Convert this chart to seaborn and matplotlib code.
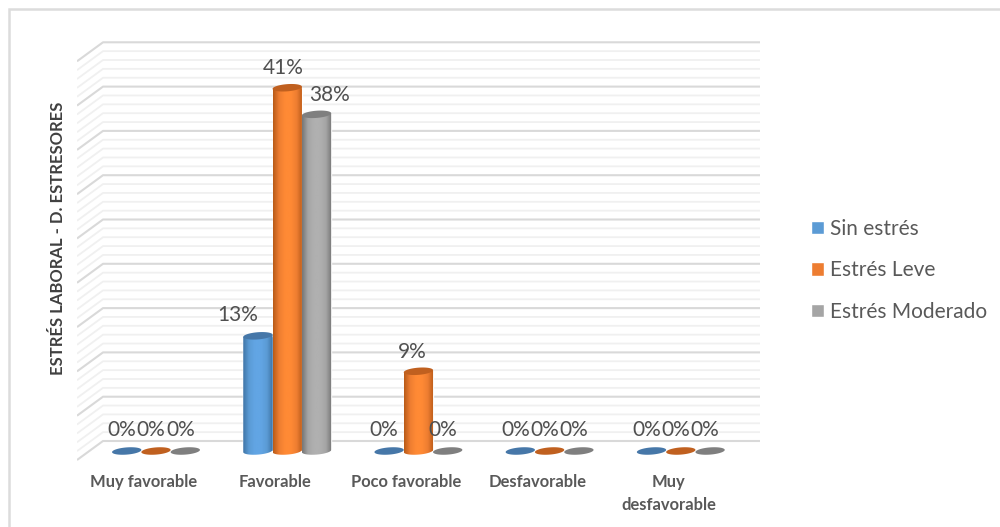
import numpy as np
import pandas as pd
import matplotlib
matplotlib.use("Agg")
import matplotlib.pyplot as plt
from matplotlib.lines import Line2D
from matplotlib.patches import Polygon
from matplotlib.colors import LinearSegmentedColormap
import seaborn as sns

categories = ["Muy favorable", "Favorable", "Poco favorable", "Desfavorable", "Muy\ndesfavorable"]
series_names = ["Sin estrés", "Estrés Leve", "Estrés Moderado"]
sin_estres = [0, 13, 0, 0, 0]
estres_leve = [0, 41, 9, 0, 0]
estres_moderado = [0, 38, 0, 0, 0]
axis_title = "ESTRÉS LABORAL - D. ESTRESORES"

FIG_W, FIG_H = 1000, 527
X0, X1, Y_TOP, Y_BOT = 77, 760, 30, 470   # plot area in pixels
BASE_PX, PX_PER_UNIT = 451, 8.86
CAT0_PX, CAT_STEP = 156, 131.2

face = ["#5B9BD5", "#ED7D31", "#A5A5A5"]
edge_dark = ["#3F74A6", "#B85A18", "#767676"]
top_dark = ["#4677A8", "#C0601F", "#7F7F7F"]
light = ["#62A5E4", "#FF8A35", "#B0B0B0"]

df = pd.DataFrame({
    "categoria": categories * 3,
    "serie": np.repeat(series_names, len(categories)),
    "valor": sin_estres + estres_leve + estres_moderado,
})

sns.set_theme(style="white")
plt.rcParams["font.family"] = ["Lato", "DejaVu Sans"]

fig = plt.figure(figsize=(FIG_W / 100, FIG_H / 100), dpi=100, facecolor="white")

# Chart frame: only the top and left edges fall inside the canvas.
frame_x = 9 / FIG_W
frame_y = 1 - 9 / FIG_H
fig.add_artist(Line2D([frame_x, frame_x, 1], [0, frame_y, frame_y], transform=fig.transFigure,
                      color="#DCDCDC", lw=1.8, solid_joinstyle="miter"))

ax = fig.add_axes([X0 / FIG_W, 1 - Y_BOT / FIG_H, (X1 - X0) / FIG_W, (Y_BOT - Y_TOP) / FIG_H])

sns.barplot(data=df, x="categoria", y="valor", hue="serie", order=categories,
            hue_order=series_names, palette=face, width=0.67, gap=0, saturation=1,
            ax=ax, zorder=3)

xlim = ((X0 - CAT0_PX) / CAT_STEP, (X1 - CAT0_PX) / CAT_STEP)
ylim = ((BASE_PX - Y_BOT) / PX_PER_UNIT, (BASE_PX - Y_TOP) / PX_PER_UNIT)
ax.set_xlim(*xlim)
ax.set_ylim(*ylim)

# Perspective wall: back lines with a short diagonal running to the front edge.
wall_rise = 10 / PX_PER_UNIT
wall_drop = -9 / PX_PER_UNIT
x_back = xlim[0] + 26 / CAT_STEP
for level in range(0, 46):
    major = level % 5 == 0
    color = "#D9D9D9" if major else "#F0F0F0"
    lw = 1.5 if major else 1.3
    ax.plot([xlim[0], x_back, xlim[1]],
            [level + wall_drop, level + wall_rise, level + wall_rise],
            color=color, lw=lw, zorder=1.5 if major else 1, solid_capstyle="butt")

cmaps = [LinearSegmentedColormap.from_list(
    f"cyl{i}", [edge_dark[i], face[i], light[i], light[i], face[i], edge_dark[i]])
    for i in range(3)]

ell_b = 3.6 / PX_PER_UNIT
ell_k = 1.1 / PX_PER_UNIT
t = np.linspace(0, 2 * np.pi, 80)
grad = np.linspace(0, 1, 128)[None, :]

containers = ax.containers
for s, cont in enumerate(containers):
    for bar in cont:
        x = bar.get_x()
        w = bar.get_width()
        h = bar.get_height()
        cx = x + w / 2
        a = w / 2
        if h > 0:
            # Cylinder body: horizontal shading clipped to the side outline.
            tb = np.linspace(np.pi, 2 * np.pi, 30)
            side = np.column_stack([cx + a * np.cos(tb), ell_b * np.sin(tb) + ell_k * np.cos(tb)])
            outline = np.vstack([side, [[x + w, h + ell_k]], [[x, h - ell_k]]])
            poly = Polygon(outline, closed=True, fc="none", ec="none", transform=ax.transData)
            ax.add_patch(poly)
            im = ax.imshow(grad, cmap=cmaps[s], extent=(x, x + w, -ell_b * 2, h + ell_b * 2),
                           aspect="auto", zorder=3.2 + s * 0.1, interpolation="bilinear")
            im.set_clip_path(poly)
        else:
            # A zero-height column has no visible rectangle, only its flat disc.
            bar.set_visible(False)
        cap = np.column_stack([cx + a * np.cos(t), h + ell_b * np.sin(t) + ell_k * np.cos(t)])
        ax.add_patch(Polygon(cap, closed=True, fc=top_dark[s], ec="none", zorder=3.25 + s * 0.1))

ax.set_xlim(*xlim)
ax.set_ylim(*ylim)

# Value labels, with the hand-placed nudges for the crowded columns.
nudges = {(0, 1): (-20, 21), (1, 1): (-4, 20), (2, 1): (13, 19), (1, 2): (-6, 19)}
for s, cont in enumerate(containers):
    for c, bar in enumerate(cont):
        dx, dy = nudges.get((s, c), (-5, 21))
        ax.annotate(f"{bar.get_height():.0f}%",
                    (bar.get_x() + bar.get_width() / 2, bar.get_height()),
                    xytext=(dx, dy), textcoords="offset pixels",
                    ha="center", va="center", fontsize=15, color="#505050", zorder=6)

for spine in ax.spines.values():
    spine.set_visible(False)
ax.set_xlabel("")
ax.set_ylabel("")
ax.set_yticks([])
ax.set_xticks([])
ax.patch.set_alpha(0)

# Category labels sit left of their column groups.
for c, name in enumerate(categories):
    ax.annotate(name, (c, 0), xytext=(-12, -23), textcoords="offset pixels",
                ha="center", va="top", fontsize=11.9, fontweight="bold",
                color="#595959", linespacing=1.5, annotation_clip=False)

fig.text(58 / FIG_W, 1 - 238 / FIG_H, axis_title, rotation=90, ha="center", va="center",
         fontsize=12, fontweight="bold", color="#404040")

handles, labels = ax.get_legend_handles_labels()
ax.legend_.remove()
fig.legend(handles, labels, loc="center left", bbox_to_anchor=(811 / FIG_W, 1 - 270.5 / FIG_H),
           frameon=False, fontsize=15, labelcolor="#595959", handlelength=0.62, handleheight=0.62,
           handletextpad=0.28, labelspacing=1.03, borderpad=0, borderaxespad=0)

fig.savefig("out.png", dpi=100, facecolor="white")
